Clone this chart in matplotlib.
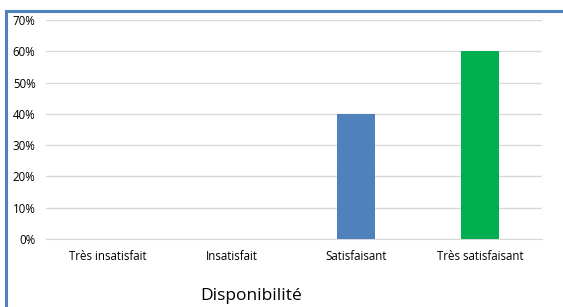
import matplotlib.pyplot as plt
from matplotlib.patches import Rectangle
import numpy as np

# data
categories = ['Très insatisfait', 'Insatisfait', 'Satisfaisant', 'Très satisfaisant']
values = [0, 0, 40, 60]
bar_colors = ['#4f81bd', '#4f81bd', '#4f81bd', '#00b050']
title = 'Disponibilité'

plt.rcParams['font.family'] = ['Open Sans', 'DejaVu Sans']

fig = plt.figure(figsize=(5.63, 3.07), dpi=100)
W, H = 563, 307
ax = fig.add_axes([46 / W, 1 - 239 / H, (542 - 46) / W, (239 - 20) / H])

x = np.arange(len(categories))
ax.bar(x, values, width=0.31, color=bar_colors, zorder=3)

ax.set_xlim(-0.5, len(categories) - 0.5)
ax.set_ylim(0, 70)
ax.set_yticks(np.arange(0, 71, 10))
ax.set_yticklabels([f'{v}%' for v in range(0, 71, 10)], fontsize=8.3)
ax.set_xticks(x)
ax.set_xticklabels(categories, fontsize=8.3)
ax.tick_params(axis='both', length=0)
ax.tick_params(axis='y', pad=7.5)
ax.tick_params(axis='x', pad=8)
ax.grid(axis='y', color='#d9d9d9', linewidth=1, zorder=0)
for s in ['top', 'right', 'left']:
    ax.spines[s].set_visible(False)
ax.spines['bottom'].set_color('#d9d9d9')

fig.text(251 / W, 1 - 296 / H, title, ha='center', va='center', fontsize=12.5)

# blue outer frame, cut off at right and bottom
fig.patches.append(Rectangle((6 / W, -0.1), 1.2, 1 - 11 / H + 0.1, transform=fig.transFigure,
                             fill=False, edgecolor='#4f81bd', linewidth=2.2))

fig.savefig('out.png', dpi=100)
